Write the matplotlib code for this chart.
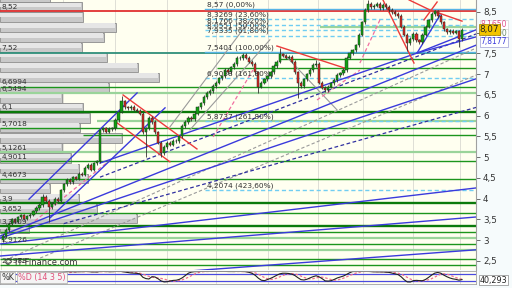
import numpy as np
import pandas as pd
import matplotlib
matplotlib.use("Agg")
import matplotlib.pyplot as plt

# ---------------- data ----------------
closes = [
    3.10, 3.25, 3.40, 3.50, 3.45, 3.55, 3.60, 3.52, 3.58, 3.62,
    3.70, 3.78, 3.85, 4.05, 3.95, 3.80, 3.88, 4.00, 3.95, 4.20,
    4.35, 4.45, 4.40, 4.52, 4.48, 4.60, 4.58, 4.75, 4.82, 4.70,
    4.85, 4.90, 5.65, 5.70, 5.62, 5.68, 5.70, 5.90, 6.10, 6.35,
    6.20, 6.18, 6.22, 6.15, 6.12, 6.05, 5.60, 5.70, 5.95, 5.85,
    5.60, 5.35, 5.10, 5.25, 5.35, 5.30, 5.40, 5.38, 5.50, 5.75,
    5.85, 5.95, 5.92, 6.05, 6.20, 6.30, 6.45, 6.55, 6.60, 6.72,
    6.80, 6.90, 6.95, 7.10, 7.05, 7.17, 7.25, 7.40, 7.38, 7.46,
    7.40, 7.30, 7.25, 7.05, 6.70, 6.80, 6.88, 6.95, 7.05, 7.20,
    7.30, 7.48, 7.45, 7.40, 7.42, 7.30, 7.05, 6.80, 6.72, 6.88,
    7.00, 7.10, 7.22, 7.25, 6.80, 6.68, 6.62, 6.70, 6.78, 6.86,
    6.98, 7.02, 7.10, 7.40, 7.50, 7.58, 7.70, 7.95, 8.25, 8.55,
    8.70, 8.62, 8.65, 8.70, 8.60, 8.68, 8.62, 8.55, 8.50, 8.45,
    8.40, 8.15, 7.95, 7.75, 7.85, 7.98, 7.82, 7.78, 7.95, 8.15,
    8.30, 8.45, 8.52, 8.40, 8.25, 8.08, 8.02, 8.05, 8.00, 8.03, 7.85, 8.07,
]
first_open = 3.00
long_highs = {13: 4.12, 39: 6.48, 91: 7.63, 103: 7.35, 120: 8.79, 142: 8.56}
long_lows = {15: 3.45, 47: 5.00, 52: 5.00, 84: 6.55, 97: 6.43, 133: 7.55, 150: 7.66}

# volume profile (price bin centres, relative volume)
profile_prices = [8.86, 8.62, 8.38, 8.13, 7.89, 7.65, 7.41, 7.16, 6.92, 6.68, 6.43, 6.19,
                  5.95, 5.71, 5.46, 5.22, 4.98, 4.73, 4.49, 4.25, 4.01, 3.76, 3.52, 3.28]
profile_volume = [50, 82, 83, 116, 104, 82, 107, 138, 159, 109, 62, 83,
                  90, 80, 122, 62, 71, 79, 88, 50, 79, 97, 137, 29]

# horizontal support / resistance levels
h_levels = [8.52, 8.14, 7.52, 7.37, 7.15, 6.6994, 6.5494, 6.1, 5.87, 5.7018, 5.54, 5.1261,
            4.9011, 4.4673, 3.9, 3.652, 3.3409, 3.2, 3.05, 2.9126, 2.77, 2.55, 2.3988]
h_start = [-1, 104.3, -1, 91.1, 70.4, -1, -1, -1, 30.9, -1, 26.3, -1,
           -1, -1, -1, -1, -1, -1, -1, -1, -1, -1, -1]
h_kind = ['red', 'light', 'teal', 'green', 'green', 'green', 'light', 'dark', 'light', 'green', 'green', 'light',
          'green', 'green', 'dark', 'green', 'dark', 'green', 'light', 'green', 'light', 'green', 'green']
h_labels = ['8,52', '', '7,52', '', '', '6,6994', '6,5494', '6,1', '', '5,7018', '', '5,1261',
            '4,9011', '4,4673', '3,9', '3,652', '3,3409', '', '', '2,9126', '', '', '2,3988']

# fibonacci levels
fib_levels = [8.57, 8.3269, 8.1766, 8.0551, 7.9335, 7.5401, 6.9038, 5.8737, 4.2074]
fib_labels = ['8,57 (0,00%)', '8,3269 (23,60%)', '8,1766 (38,20%)', '8,0551 (50,00%)',
              '7,9335 (61,80%)', '7,5401 (100,00%)', '6,9038 (161,80%)', '5,8737 (261,80%)',
              '4,2074 (423,60%)']
fib_start = 66.4

# trend lines: (x0, p0, x1, p1) in candle index / price
blue_lines = [(8.55, 3.99, 44.1, 6.55), (15.5, 3.54, 53.3, 6.19),
              (-1, 3.10, 155.6, 7.70), (-1, 3.05, 155.6, 6.89),
              (-1, 2.91, 155.6, 4.26), (-1, 2.62, 155.6, 3.56),
              (-1, 1.92, 155.6, 2.77), (31.9, 4.86, 136.2, 7.51),
              (136.2, 7.51, 155.6, 7.90), (136.2, 7.51, 155.6, 8.07),
              (136.2, 7.51, 143.8, 8.43)]
navy_dashed = [(31.9, 4.52, 155.6, 7.97), (20.0, 3.40, 155.6, 6.20)]
grey_dashed = [(2.3, 2.57, 155.6, 7.63), (12.2, 2.57, 155.6, 6.98)]
pink_dashed = [(8.9, 3.37, 35.2, 4.93), (69.1, 5.49, 82.2, 7.10),
               (117.4, 7.27, 124.0, 8.31), (103.3, 6.38, 117.4, 7.10)]
grey_solid = [(54.9, 5.73, 81.3, 8.31), (61.5, 5.66, 87.8, 7.83), (92.1, 7.51, 109.9, 6.14)]
red_lines = [(39.5, 6.50, 63.8, 5.20), (37.5, 5.83, 54.9, 4.89), (90.1, 7.68, 113.2, 7.13),
             (125.0, 8.79, 135.2, 7.27), (133.6, 8.79, 142.4, 8.48), (142.4, 8.50, 151.0, 8.28),
             (138.5, 8.31, 142.8, 8.74)]

month_grid = [-0.5, 19.7, 36.8, 53.9, 70.1, 87.2, 103.6, 118.4, 134.9, 150.3]
y_ticks = [2.5, 3, 3.5, 4, 4.5, 5, 5.5, 6, 6.5, 7, 7.5, 8, 8.5]

# ---------------- derived OHLC ----------------
n = len(closes)
idx = np.arange(n)
c = np.array(closes)
o = np.array([first_open] + closes[:-1])
base_wick = 0.04
hi = np.maximum(o, c) + base_wick
lo = np.minimum(o, c) - base_wick
for k, v in long_highs.items():
    hi[k] = v
for k, v in long_lows.items():
    lo[k] = v

# slow stochastic (14,3,5)
kraw = np.full(n, np.nan)
for i in range(13, n):
    l14 = lo[i - 13:i + 1].min()
    h14 = hi[i - 13:i + 1].max()
    kraw[i] = 100 * (c[i] - l14) / (h14 - l14)
stoch_k = pd.Series(kraw).rolling(3).mean().values
stoch_d = pd.Series(stoch_k).rolling(5).mean().values

# ---------------- figure ----------------
W, H = 512, 288
fig = plt.figure(figsize=(W / 100, H / 100), dpi=100)
fig.patch.set_facecolor('#f6fbfc')
bg = '#fffff0'
XMIN, XMAX = -0.99, 155.6
YMIN, YMAX = 2.283, 8.789

ax = fig.add_axes([0, 18 / H, 476 / W, 270 / H])
ax.set_facecolor(bg)
ax.set_xlim(XMIN, XMAX)
ax.set_ylim(YMIN, YMAX)

for gx in month_grid:
    ax.axvline(gx, color='#d9d9d2', lw=0.6, zorder=0.5)

# volume profile bars
vol_scale = (XMAX - XMIN) / 476.0
bin_h = 0.243
for pp, vv in zip(profile_prices, profile_volume):
    ax.barh(pp, vv * vol_scale, height=bin_h * 0.93, left=XMIN, color='#c9c9c9',
            edgecolor='#8c8c8c', lw=0.6, zorder=1)
    ax.barh(pp + bin_h * 0.2, vv * vol_scale - 0.35, height=bin_h * 0.45, left=XMIN + 0.1,
            color='#e6e6e6', lw=0, zorder=1.1)

kind_style = {
    'red': dict(color='#e03030', lw=1.3),
    'light': dict(color='#9ad49a', lw=1.6),
    'teal': dict(color='#2f8f7a', lw=1.3),
    'green': dict(color='#1c951c', lw=1.0),
    'dark': dict(color='#0b7a0b', lw=1.7),
}
for lev, st, kd, lab in zip(h_levels, h_start, h_kind, h_labels):
    ax.plot([st, XMAX], [lev, lev], zorder=2, solid_capstyle='butt', **kind_style[kd])
    if lab:
        ax.text(XMIN + 0.5, lev + 0.03, lab, fontsize=5.3, color='#333333',
                va='bottom', ha='left', zorder=6)

for lev, lab in zip(fib_levels, fib_labels):
    solid = lab.startswith('8,57') or lab.startswith('7,5401')
    ax.plot([fib_start, XMAX], [lev, lev], color='#58b4e6' if solid else '#70cdf2',
            lw=1.0, ls='-' if solid else (0, (3, 2)), zorder=2.2)
    ax.text(fib_start + 0.6, lev + 0.025, lab, fontsize=5.3, color='#333333',
            va='bottom', ha='left', zorder=6)

def draw(lines, **kw):
    for x0, p0, x1, p1 in lines:
        ax.plot([x0, x1], [p0, p1], **kw)

draw(grey_solid, color='#9a9a9a', lw=0.8, zorder=2.5)
draw(grey_dashed, color='#9a9a9a', lw=0.8, ls=(0, (3, 2)), zorder=2.5)
draw(pink_dashed, color='#f06ea0', lw=0.9, ls=(0, (3, 2)), zorder=2.5)
draw(navy_dashed, color='#3030a0', lw=0.9, ls=(0, (3, 2)), zorder=2.6)
draw(blue_lines, color='#3a3adc', lw=1.0, zorder=2.7)
draw(red_lines, color='#ec3a3a', lw=1.0, zorder=2.8)

# candles
up = c >= o
ax.vlines(idx, lo, hi, color='#333333', lw=0.6, zorder=4)
body = np.where(np.abs(c - o) < 0.01, 0.01, c - o)
ax.bar(idx, body, bottom=o, width=0.72, color=np.where(up, '#12a012', '#e02424'),
       edgecolor='#1e2e1e', lw=0.35, zorder=4.5)

ax.text(XMIN + 1.2, 2.47, '\u00a9 IT-Finance.com', fontsize=6, color='#333333',
        va='center', ha='left', zorder=6)

# axis styling
for s in ['left', 'top', 'bottom']:
    ax.spines[s].set_visible(False)
ax.spines['right'].set_color('#a0a0a0')
ax.spines['right'].set_linewidth(0.8)
ax.set_xticks([])
ax.yaxis.tick_right()
ax.set_yticks(y_ticks)
ax.set_yticklabels([('%g' % t).replace('.', ',') for t in y_ticks])
ax.tick_params(axis='y', length=3, width=0.6, color='#555555', labelsize=6.3,
               labelcolor='#333333', pad=2)

# right-side value boxes
yt = ax.get_yaxis_transform()
ax.text(1.01, 8.19, '8,1650', transform=yt, fontsize=5.5, color='#e0508a', va='center',
        ha='left', zorder=7, bbox=dict(facecolor='white', edgecolor='#cccccc', pad=0.6, lw=0.4))
ax.text(1.01, 7.97, '7,9600', transform=yt, fontsize=5.5, color='#6a8a6a', va='center',
        ha='left', zorder=7, bbox=dict(facecolor='white', edgecolor='#cccccc', pad=0.6, lw=0.4))
ax.text(1.01, 7.78, '7,8177', transform=yt, fontsize=5.5, color='#3a3adc', va='center',
        ha='left', zorder=7, bbox=dict(facecolor='white', edgecolor='#8888cc', pad=0.6, lw=0.4))
ax.text(1.008, c[-1], ('%.2f' % c[-1]).replace('.', ','), transform=yt, fontsize=6.3,
        color='#222222', va='center', ha='left', zorder=8,
        bbox=dict(facecolor='#f3c400', edgecolor='#a08000', pad=0.8, lw=0.5))

# ---------------- oscillator panel ----------------
osc = fig.add_axes([0, 4 / H, 476 / W, 13 / H])
osc.set_facecolor(bg)
osc.set_xlim(XMIN, XMAX)
osc.set_ylim(0, 100)
for gx in month_grid:
    osc.axvline(gx, color='#d9d9d2', lw=0.6, zorder=0.5)
osc.axhline(80, color='#4a4ae0', lw=0.9)
osc.axhline(20, color='#4a4ae0', lw=0.9)
osc.plot(idx, stoch_d, color='#f07090', lw=0.9, ls=(0, (2, 1.5)))
osc.plot(idx, stoch_k, color='#222222', lw=0.8)
osc.set_xticks([])
osc.set_yticks([])
for s in osc.spines.values():
    s.set_color('#a0a0a0')
    s.set_linewidth(0.6)
osc.text(0.003, 0.5, '%K', transform=osc.transAxes, fontsize=5.8, color='#333333',
         va='center', ha='left', zorder=6,
         bbox=dict(facecolor='#f4f4f4', edgecolor='#aaaaaa', pad=0.7, lw=0.5))
osc.text(0.038, 0.5, '%D (14 3 5)', transform=osc.transAxes, fontsize=5.8, color='#e0507a',
         va='center', ha='left', zorder=6,
         bbox=dict(facecolor='#f4f4f4', edgecolor='#aaaaaa', pad=0.7, lw=0.5))
osc.text(1.008, 30, '40,293', transform=osc.get_yaxis_transform(), fontsize=5.8,
         color='#222222', va='center', ha='left', zorder=6,
         bbox=dict(facecolor='white', edgecolor='#888888', pad=0.6, lw=0.5))

fig.savefig('out.png', dpi=100, facecolor=fig.get_facecolor())
